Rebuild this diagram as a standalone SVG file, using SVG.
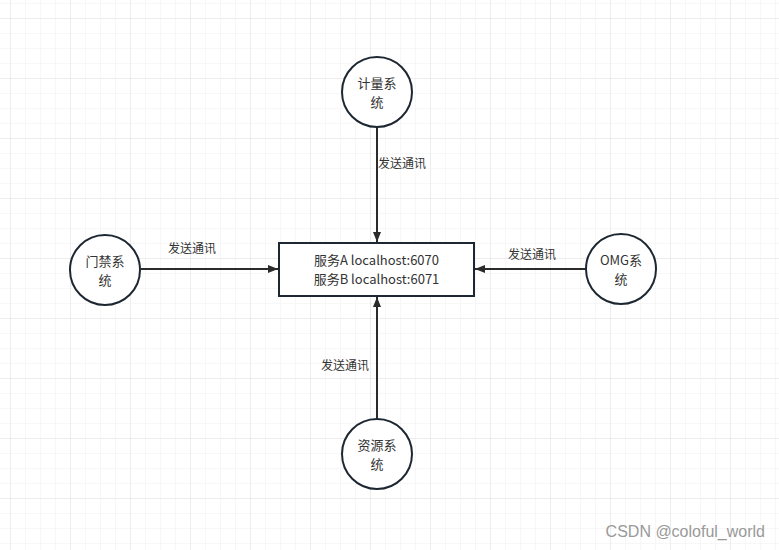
<svg xmlns="http://www.w3.org/2000/svg" width="779" height="550" viewBox="0 0 779 550">
<defs>
<pattern id="minor" x="10" y="3" width="15" height="15" patternUnits="userSpaceOnUse">
<path d="M0 0H15M0 0V15" fill="none" stroke="#f0f0f0" stroke-width="1"/>
</pattern>
<pattern id="major" x="10" y="18" width="60" height="60" patternUnits="userSpaceOnUse">
<path d="M0 0H60M0 0V60" fill="none" stroke="#e3e3e3" stroke-width="1"/>
</pattern>
<marker id="arr" viewBox="0 0 10 10" refX="10" refY="5" markerWidth="10" markerHeight="10" markerUnits="userSpaceOnUse" orient="auto">
<path d="M0 1L10 5L0 9Z" fill="#2b2b2b"/>
</marker>
</defs>
<style>
.node{fill:#fff;stroke:#1d2731;stroke-width:2}
.t{font-family:"Noto Sans CJK SC","Liberation Sans",sans-serif;font-size:13px;fill:#333;text-anchor:middle}
.c{stroke:#2b2b2b;stroke-width:2;fill:none;marker-end:url(#arr)}
.lbl{font-family:"Noto Sans CJK SC","Liberation Sans",sans-serif;font-size:12px;fill:#333}
</style>
<rect width="779" height="550" fill="#fff"/>
<rect width="779" height="550" fill="url(#minor)"/>
<rect width="779" height="550" fill="url(#major)"/>
<g id="connectors">
<path class="c" d="M377 127V242"/>
<path class="c" d="M141 269H278"/>
<path class="c" d="M586 269H475"/>
<path class="c" d="M377 419V297"/>
<text class="lbl" x="378" y="168">发送通讯</text>
<text class="lbl" x="168" y="253">发送通讯</text>
<text class="lbl" x="508" y="259">发送通讯</text>
<text class="lbl" x="321" y="370">发送通讯</text>
</g>
<g id="center">
<rect class="node" x="279" y="243" width="195" height="53"/>
<text class="t" x="376.5" y="265">服务A localhost:6070</text>
<text class="t" x="376.5" y="284">服务B localhost:6071</text>
</g>
<g id="jiliang">
<circle class="node" cx="377" cy="92" r="35"/>
<text class="t" x="377" y="88">计量系</text>
<text class="t" x="377" y="107">统</text>
</g>
<g id="menjin">
<circle class="node" cx="105" cy="270" r="35"/>
<text class="t" x="105" y="266">门禁系</text>
<text class="t" x="105" y="285">统</text>
</g>
<g id="omg">
<circle class="node" cx="621" cy="269" r="35"/>
<text class="t" x="621" y="265">OMG系</text>
<text class="t" x="621" y="284">统</text>
</g>
<g id="ziyuan">
<circle class="node" cx="377" cy="454" r="35"/>
<text class="t" x="377" y="450">资源系</text>
<text class="t" x="377" y="469">统</text>
</g>
<text x="765" y="537" font-family="'Liberation Sans',sans-serif" font-size="16" fill="#999" text-anchor="end">CSDN @coloful_world</text>
</svg>
